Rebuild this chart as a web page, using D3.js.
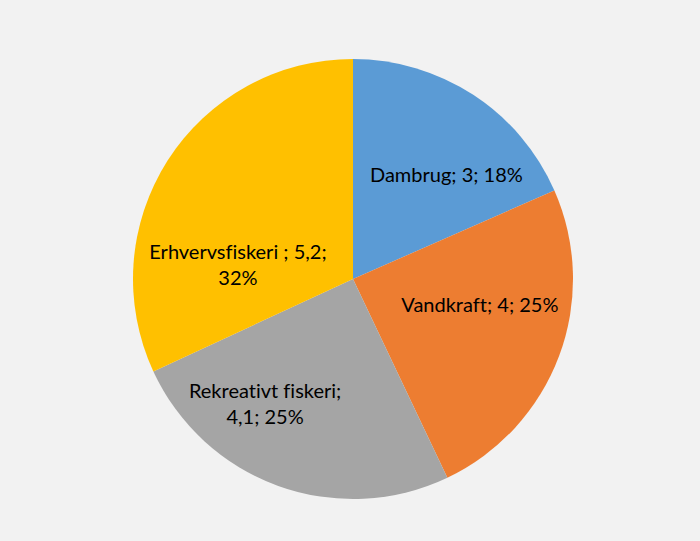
<!DOCTYPE html>
<html><head><meta charset="utf-8">
<script src="https://cdn.jsdelivr.net/npm/d3@7"></script>
<style>html,body{margin:0;padding:0;background:#F2F2F2;}</style>
</head><body>
<svg id="c" width="700" height="541"></svg>
<script>
const categories = ["Dambrug", "Vandkraft", "Rekreativt fiskeri", "Erhvervsfiskeri "];
const values = [3, 4, 4.1, 5.2];
const valueLabels = ["3", "4", "4,1", "5,2"];
const colors = ["#5B9BD5", "#ED7D31", "#A5A5A5", "#FFC000"];

// label layout: [angle (deg, clockwise from top), radius fraction]
const labelLayout = [[41.8, 0.637], [101.6, 0.589], [215.1, 0.695], [277.2, 0.527]];
const labelLines = [
  (c,v,p) => [c + "; " + v + "; " + p],
  (c,v,p) => [c + "; " + v + "; " + p],
  (c,v,p) => [c + ";", v + "; " + p],
  (c,v,p) => [c + "; " + v + ";", p]
];

const W = 700, H = 541, cx = 353, cy = 279, R = 220;
const svg = d3.select("#c");
svg.append("rect").attr("width", W).attr("height", H).attr("fill", "#F2F2F2");
const total = d3.sum(values);
const data = categories.map((c, i) => ({c, v: values[i], vl: valueLabels[i], i}));
const pie = d3.pie().value(d => d.v).sort(null);
const arc = d3.arc().innerRadius(0).outerRadius(R);
const g = svg.append("g").attr("transform", `translate(${cx},${cy})`);
const arcs = pie(data);
g.selectAll("path").data(arcs).join("path")
  .attr("d", arc).attr("fill", d => colors[d.data.i]);

const lh = 26;
arcs.forEach(a => {
  const i = a.data.i;
  const [ang, rf] = labelLayout[i];
  const rad = ang * Math.PI / 180;
  const x = Math.sin(rad) * rf * R, y = -Math.cos(rad) * rf * R;
  const pct = Math.round(a.data.v / total * 100) + "%";
  const lines = labelLines[i](a.data.c, a.data.vl, pct);
  const t = g.append("text").attr("x", x).attr("y", y)
    .attr("text-anchor", "middle")
    .style("font-family", "Lato, 'Open Sans', sans-serif")
    .style("font-variant-ligatures", "none")
    .style("font-size", "20px").attr("fill", "#000");
  lines.forEach((l, k) => {
    t.append("tspan").attr("x", x)
      .attr("y", y + (k - (lines.length - 1) / 2) * lh)
      .attr("dy", "0.36em").text(l);
  });
});
</script>
</body></html>
